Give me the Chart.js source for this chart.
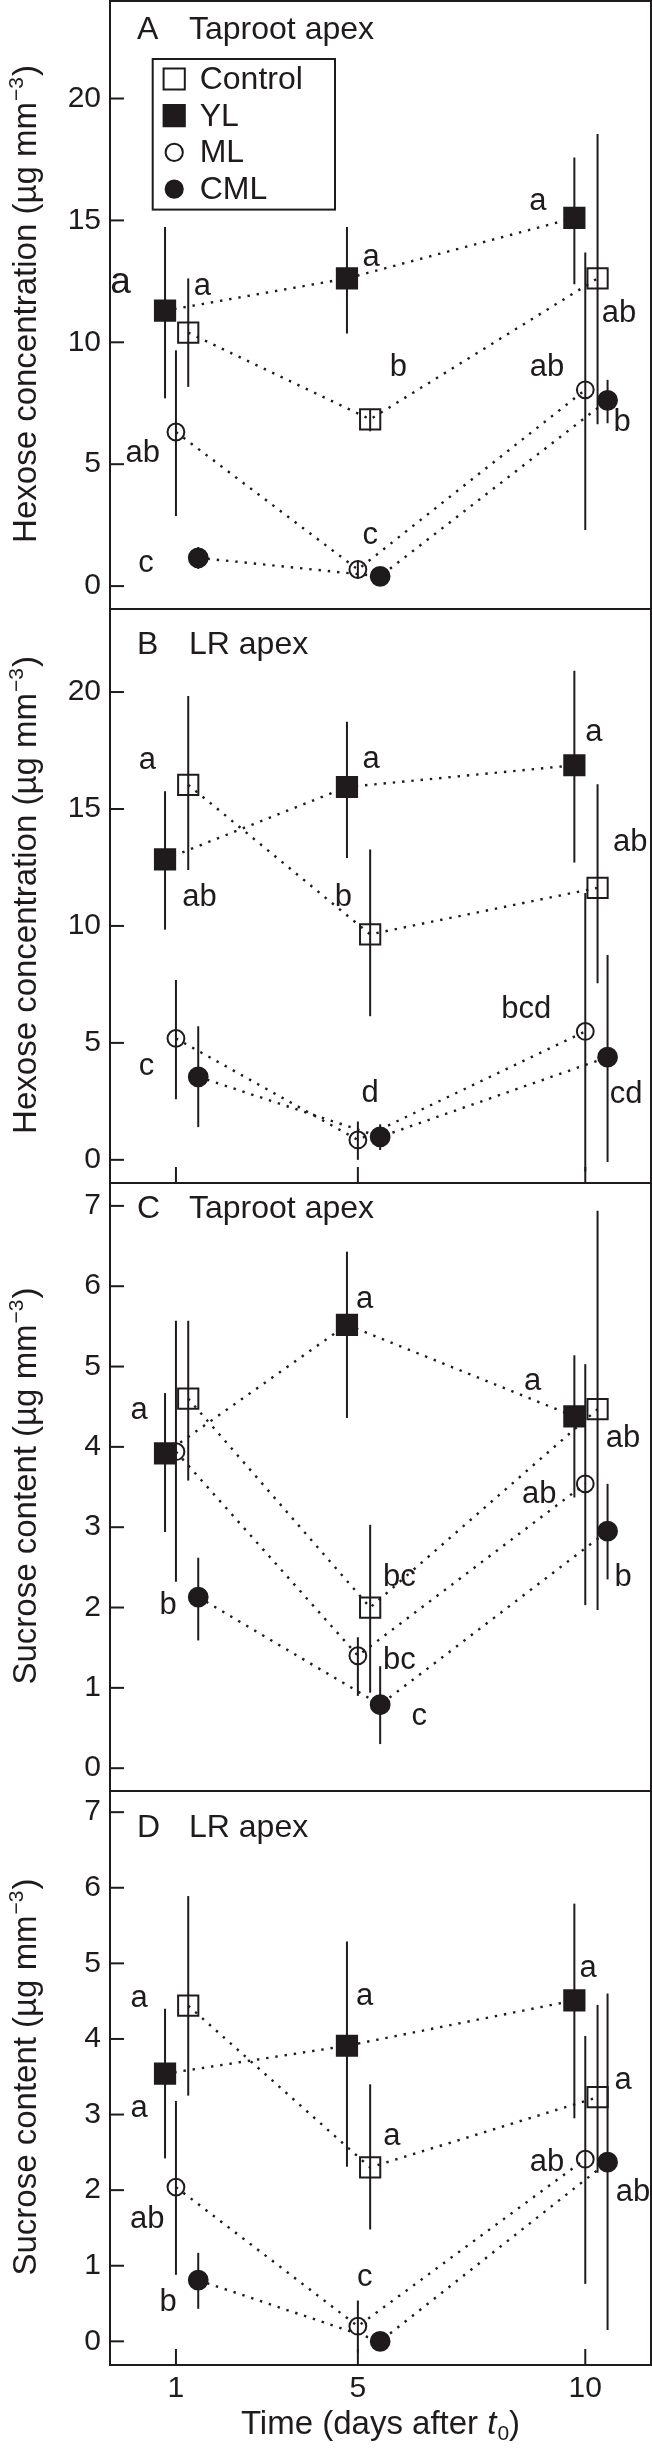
<!DOCTYPE html>
<html>
<head>
<meta charset="utf-8">
<script src="https://cdn.jsdelivr.net/npm/chart.js@4.4.1/dist/chart.umd.min.js"></script>
<style>
html, body { margin: 0; padding: 0; background: #ffffff; }
#wrap { position: relative; width: 652px; height: 2452px; overflow: hidden; }
#wrap canvas { position: absolute; left: 0; top: 0; }
</style>
</head>
<body>
<div id="wrap">
  <canvas id="cA" width="652" height="2452"></canvas>
  <canvas id="cB" width="652" height="2452"></canvas>
  <canvas id="cC" width="652" height="2452"></canvas>
  <canvas id="cD" width="652" height="2452"></canvas>
</div>
<script>
// ---------------- data ----------------
const days = [1, 5, 10];
const seriesNames = ['Control', 'YL', 'ML', 'CML'];
const hexTicks = [0, 5, 10, 15, 20];
const sucTicks = [0, 1, 2, 3, 4, 5, 6, 7];

// A: Taproot apex, hexose
const A_Control = [10.4, 6.84, 12.62];
const A_Control_lo = [8.17, 6.35, 6.64];
const A_Control_hi = [12.62, 7.25, 18.54];
const A_YL = [11.3, 12.62, 15.1];
const A_YL_lo = [7.7, 10.36, 12.38];
const A_YL_hi = [14.73, 14.73, 17.58];
const A_ML = [6.32, 0.68, 8.05];
const A_ML_lo = [2.87, 0.3, 2.3];
const A_ML_hi = [9.67, 1.05, 13.68];
const A_CML = [1.16, 0.4, 7.62];
const A_CML_lo = [0.7, 0.1, 6.68];
const A_CML_hi = [1.6, 0.7, 8.46];

// B: LR apex, hexose
const B_Control = [16.03, 9.64, 11.63];
const B_Control_lo = [12.39, 6.14, 7.55];
const B_Control_hi = [19.83, 13.27, 16.06];
const B_YL = [12.85, 15.94, 16.87];
const B_YL_lo = [9.84, 12.9, 12.71];
const B_YL_hi = [15.76, 18.73, 20.91];
const B_ML = [5.19, 0.85, 5.49];
const B_ML_lo = [2.59, 0.0, -0.5];
const B_ML_hi = [7.69, 1.64, 11.41];
const B_CML = [3.55, 0.98, 4.39];
const B_CML_lo = [1.4, 0.42, -0.09];
const B_CML_hi = [5.71, 1.52, 8.76];

// C: Taproot apex, sucrose
const C_Control = [4.6, 2.0, 4.47];
const C_Control_lo = [3.58, 0.94, 1.97];
const C_Control_hi = [5.57, 3.03, 6.94];
const C_YL = [3.92, 5.52, 4.38];
const C_YL_lo = [2.94, 4.36, 3.37];
const C_YL_hi = [4.67, 6.43, 5.14];
const C_ML = [3.94, 1.4, 3.54];
const C_ML_lo = [2.32, 0.9, 2.03];
const C_ML_hi = [5.57, 1.63, 5.03];
const C_CML = [2.13, 0.79, 2.95];
const C_CML_lo = [1.59, 0.3, 2.35];
const C_CML_hi = [2.62, 1.27, 3.54];

// D: LR apex, sucrose
const D_Control = [4.44, 2.3, 3.23];
const D_Control_lo = [3.25, 1.48, 2.23];
const D_Control_hi = [5.89, 3.4, 4.45];
const D_YL = [3.54, 3.91, 4.51];
const D_YL_lo = [2.42, 2.31, 2.95];
const D_YL_hi = [4.4, 5.29, 5.79];
const D_ML = [2.04, 0.2, 2.41];
const D_ML_lo = [0.88, -0.15, 0.76];
const D_ML_hi = [3.18, 0.54, 4.04];
const D_CML = [0.81, 0.0, 2.37];
const D_CML_lo = [0.43, -0.1, 0.15];
const D_CML_hi = [1.17, 0.1, 4.6];

// significance letters (text, day position, value position)
const A_letters = ['a', 'a', 'ab', 'c', 'a', 'b', 'c', 'a', 'ab', 'ab', 'b'];
const A_letterX = [-0.22, 1.58, 0.27, 0.34, 5.29, 5.89, 5.27, 8.96, 10.74, 9.16, 10.81];
const A_letterY = [12.43, 12.3, 5.46, 0.92, 13.5, 8.95, 2.06, 15.78, 11.2, 8.95, 6.7];
const B_letters = ['a', 'ab', 'c', 'a', 'b', 'd', 'a', 'ab', 'bcd', 'cd'];
const B_letterX = [0.37, 1.52, 0.35, 5.29, 4.68, 5.27, 10.19, 10.99, 8.7, 10.9];
const B_letterY = [17.08, 11.21, 4.0, 17.1, 11.21, 2.82, 18.29, 13.57, 6.42, 2.79];
const C_letters = ['a', 'b', 'a', 'bc', 'bc', 'c', 'a', 'ab', 'ab', 'b'];
const C_letterX = [0.19, 0.83, 5.15, 5.91, 5.91, 6.35, 8.84, 10.83, 8.99, 10.83];
const C_letterY = [4.45, 2.03, 5.84, 2.37, 1.34, 0.64, 4.81, 4.11, 3.41, 2.37];
const D_letters = ['a', 'a', 'ab', 'b', 'a', 'a', 'c', 'a', 'a', 'ab', 'ab'];
const D_letterX = [0.19, 0.19, 0.37, 0.83, 5.15, 5.75, 5.15, 10.06, 10.83, 9.16, 11.05];
const D_letterY = [4.54, 3.08, 1.61, 0.51, 4.56, 2.71, 0.85, 4.93, 3.45, 2.37, 1.97];

// ---------------- styling / layout ----------------
const INK = '#1f1b1c';
const FONT = "'Liberation Sans', Arial, Helvetica, sans-serif";
const DODGE = [0.27, -0.24, 0, 0.49];           // horizontal offset of each series (days)
const MARK = [
  { style: 'rect', r: 14.3, fill: false },
  { style: 'rect', r: 14.3, fill: true },
  { style: 'circle', r: 8.4, fill: false },
  { style: 'circle', r: 9.4, fill: true }
];
const X_MIN = -0.45, X_MAX = 11.445;
const PAGE_H = 2452;

const panels = [
  { id: 'cA', tag: 'A', name: 'Taproot apex', yTitle: 'Hexose concentration', yMin: -0.94, yMax: 24.0, yTicks: hexTicks,
    top: 1, bottom: 609, titleDy: 29, xInnerTicks: false, xAxis: false, legend: true, big: [0],
    means: [A_Control, A_YL, A_ML, A_CML], lo: [A_Control_lo, A_YL_lo, A_ML_lo, A_CML_lo], hi: [A_Control_hi, A_YL_hi, A_ML_hi, A_CML_hi],
    letters: A_letters, lx: A_letterX, ly: A_letterY },
  { id: 'cB', tag: 'B', name: 'LR apex', yTitle: 'Hexose concentration', yMin: -0.99, yMax: 23.55, yTicks: hexTicks,
    top: 609, bottom: 1183, titleDy: 36.5, xInnerTicks: true, xAxis: false, legend: false, big: [],
    means: [B_Control, B_YL, B_ML, B_CML], lo: [B_Control_lo, B_YL_lo, B_ML_lo, B_CML_lo], hi: [B_Control_hi, B_YL_hi, B_ML_hi, B_CML_hi],
    letters: B_letters, lx: B_letterX, ly: B_letterY },
  { id: 'cC', tag: 'C', name: 'Taproot apex', yTitle: 'Sucrose content', yMin: -0.284, yMax: 7.285, yTicks: sucTicks,
    top: 1183, bottom: 1791, titleDy: 26.5, xInnerTicks: false, xAxis: false, legend: false, big: [],
    means: [C_Control, C_YL, C_ML, C_CML], lo: [C_Control_lo, C_YL_lo, C_ML_lo, C_CML_lo], hi: [C_Control_hi, C_YL_hi, C_ML_hi, C_CML_hi],
    letters: C_letters, lx: C_letterX, ly: C_letterY },
  { id: 'cD', tag: 'D', name: 'LR apex', yTitle: 'Sucrose content', yMin: -0.313, yMax: 7.28, yTicks: sucTicks,
    top: 1791, bottom: 2365, titleDy: 37.5, xInnerTicks: true, xAxis: true, legend: false, big: [],
    means: [D_Control, D_YL, D_ML, D_CML], lo: [D_Control_lo, D_YL_lo, D_ML_lo, D_CML_lo], hi: [D_Control_hi, D_YL_hi, D_ML_hi, D_CML_hi],
    letters: D_letters, lx: D_letterX, ly: D_letterY }
];

function drawMarker(ctx, i, x, y, r) {
  ctx.save();
  ctx.lineWidth = 2;
  ctx.strokeStyle = INK;
  ctx.fillStyle = MARK[i].fill ? INK : 'rgba(0,0,0,0)';
  Chart.helpers.drawPoint(ctx, { pointStyle: MARK[i].style, radius: r, rotation: 0, borderWidth: 2 }, x, y);
  ctx.restore();
}

const panelPlugin = {
  id: 'panelDeco',
  beforeDatasetsDraw(chart, args, opts) {
    const { ctx, chartArea: ca, scales: { x, y } } = chart;
    ctx.save();
    ctx.beginPath();
    ctx.rect(ca.left, ca.top, ca.right - ca.left, ca.bottom - ca.top);
    ctx.clip();
    ctx.strokeStyle = INK;
    ctx.lineWidth = 2;
    chart.data.datasets.forEach(ds => {
      ds.data.forEach(p => {
        const px = x.getPixelForValue(p.x);
        ctx.beginPath();
        ctx.moveTo(px, y.getPixelForValue(p.lo));
        ctx.lineTo(px, y.getPixelForValue(p.hi));
        ctx.stroke();
      });
    });
    ctx.restore();
  },
  afterDraw(chart, args, opts) {
    const p = opts.panel;
    const { ctx, chartArea: ca, scales: { x, y } } = chart;
    ctx.save();
    // frame
    ctx.strokeStyle = INK;
    ctx.lineWidth = 2;
    ctx.strokeRect(ca.left, ca.top, ca.right - ca.left, ca.bottom - ca.top);
    // inward y ticks
    p.yTicks.forEach(v => {
      const py = y.getPixelForValue(v);
      ctx.beginPath(); ctx.moveTo(ca.left, py); ctx.lineTo(ca.left + 14, py); ctx.stroke();
    });
    // inward x ticks
    if (p.xInnerTicks) {
      days.forEach(d => {
        const px = x.getPixelForValue(d);
        ctx.beginPath(); ctx.moveTo(px, ca.bottom); ctx.lineTo(px, ca.bottom - 16); ctx.stroke();
      });
    }
    // panel title
    ctx.fillStyle = INK;
    ctx.font = '32px ' + FONT;
    ctx.textAlign = 'left';
    ctx.textBaseline = 'middle';
    ctx.fillText(p.tag, ca.left + 27, ca.top + p.titleDy);
    ctx.fillText(p.name, ca.left + 79, ca.top + p.titleDy);
    // letters
    ctx.textAlign = 'center';
    p.letters.forEach((t, i) => {
      ctx.font = (p.big.includes(i) ? '37px ' : '31px ') + FONT;
      ctx.fillText(t, x.getPixelForValue(p.lx[i]), y.getPixelForValue(p.ly[i]));
    });
    // y title (rotated, with superscript)
    const cy = (ca.top + ca.bottom) / 2;
    const main = p.yTitle + ' (\u00b5g mm';
    const sup = '\u22123';
    const tail = ')';
    ctx.translate(27, cy);
    ctx.rotate(-Math.PI / 2);
    ctx.textAlign = 'left';
    ctx.font = '33px ' + FONT;
    const wMain = ctx.measureText(main).width;
    const wTail = ctx.measureText(tail).width;
    ctx.font = '21px ' + FONT;
    const wSup = ctx.measureText(sup).width;
    let sx = -(wMain + wSup + wTail) / 2;
    ctx.font = '33px ' + FONT;
    ctx.fillText(main, sx, 0);
    ctx.font = '21px ' + FONT;
    ctx.fillText(sup, sx + wMain + 1, -10);
    ctx.font = '33px ' + FONT;
    ctx.fillText(tail, sx + wMain + wSup + 2, 0);
    ctx.setTransform(1, 0, 0, 1, 0, 0);
    // legend
    if (p.legend) {
      const bx = ca.left + 42.7, by = ca.top + 58, bw = 182.3, bh = 150.6;
      ctx.lineWidth = 2;
      ctx.strokeStyle = INK;
      ctx.strokeRect(bx, by, bw, bh);
      ctx.font = '32px ' + FONT;
      ctx.textAlign = 'left';
      ctx.textBaseline = 'middle';
      const legR = [15, 15, 8.6, 8.6];
      seriesNames.forEach((n, i) => {
        const ry = by + 20 + i * 36.7;
        drawMarker(ctx, i, bx + 21.5, ry, legR[i]);
        ctx.fillStyle = INK;
        ctx.fillText(n, bx + 47, ry + 1);
      });
    }
    // x title
    if (p.xAxis) {
      const cx = (ca.left + ca.right) / 2;
      const ty = 2425;
      const t1 = 'Time (days after ';
      ctx.font = '33px ' + FONT; const w1 = ctx.measureText(t1).width;
      ctx.font = 'italic 33px ' + FONT; const w2 = ctx.measureText('t').width;
      ctx.font = '21px ' + FONT; const w3 = ctx.measureText('0').width;
      ctx.font = '33px ' + FONT; const w4 = ctx.measureText(')').width;
      let tx = cx - (w1 + w2 + w3 + w4 + 1) / 2;
      ctx.textAlign = 'left';
      ctx.textBaseline = 'middle';
      ctx.fillStyle = INK;
      ctx.font = '33px ' + FONT; ctx.fillText(t1, tx, ty); tx += w1;
      ctx.font = 'italic 33px ' + FONT; ctx.fillText('t', tx, ty); tx += w2 + 1;
      ctx.font = '21px ' + FONT; ctx.fillText('0', tx, ty + 9); tx += w3;
      ctx.font = '33px ' + FONT; ctx.fillText(')', tx, ty);
    }
    ctx.restore();
  }
};

function build(p) {
  const datasets = seriesNames.map((name, i) => ({
    label: name,
    data: days.map((d, j) => ({ x: d + DODGE[i], y: p.means[i][j], lo: p.lo[i][j], hi: p.hi[i][j] })),
    showLine: true,
    borderColor: INK,
    borderWidth: 2.4,
    borderDash: [2.4, 6.9],
    borderCapStyle: 'butt',
    fill: false,
    tension: 0,
    pointStyle: MARK[i].style,
    pointRadius: MARK[i].r,
    pointHoverRadius: MARK[i].r,
    pointBorderWidth: 2,
    pointBorderColor: INK,
    pointBackgroundColor: MARK[i].fill ? INK : 'rgba(0,0,0,0)'
  }));
  const xTickOpts = { font: { family: FONT, size: 30 }, color: INK, padding: 6, maxRotation: 0, autoSkip: false };
  return new Chart(document.getElementById(p.id), {
    type: 'scatter',
    data: { datasets },
    options: {
      responsive: false,
      animation: false,
      devicePixelRatio: 1,
      events: [],
      layout: { autoPadding: false, padding: { left: 0, right: 1, top: p.top, bottom: p.xAxis ? 0 : PAGE_H - p.bottom } },
      plugins: { legend: { display: false }, tooltip: { enabled: false }, panelDeco: { panel: p } },
      scales: {
        x: {
          type: 'linear', min: X_MIN, max: X_MAX, display: p.xAxis,
          afterBuildTicks: s => { s.ticks = days.map(v => ({ value: v })); },
          afterFit: s => { if (p.xAxis) s.height = PAGE_H - p.bottom; s.paddingLeft = 0; s.paddingRight = 0; },
          grid: { display: false, drawTicks: false },
          border: { display: false },
          ticks: xTickOpts
        },
        y: {
          type: 'linear', min: p.yMin, max: p.yMax,
          afterBuildTicks: s => { s.ticks = p.yTicks.map(v => ({ value: v })); },
          afterFit: s => { s.width = 110; s.paddingTop = 0; s.paddingBottom = 0; },
          grid: { display: false, drawTicks: false },
          border: { display: false },
          ticks: { font: { family: FONT, size: 30 }, color: INK, padding: 9 }
        }
      }
    },
    plugins: [panelPlugin]
  });
}

panels.forEach(build);
</script>
</body>
</html>
